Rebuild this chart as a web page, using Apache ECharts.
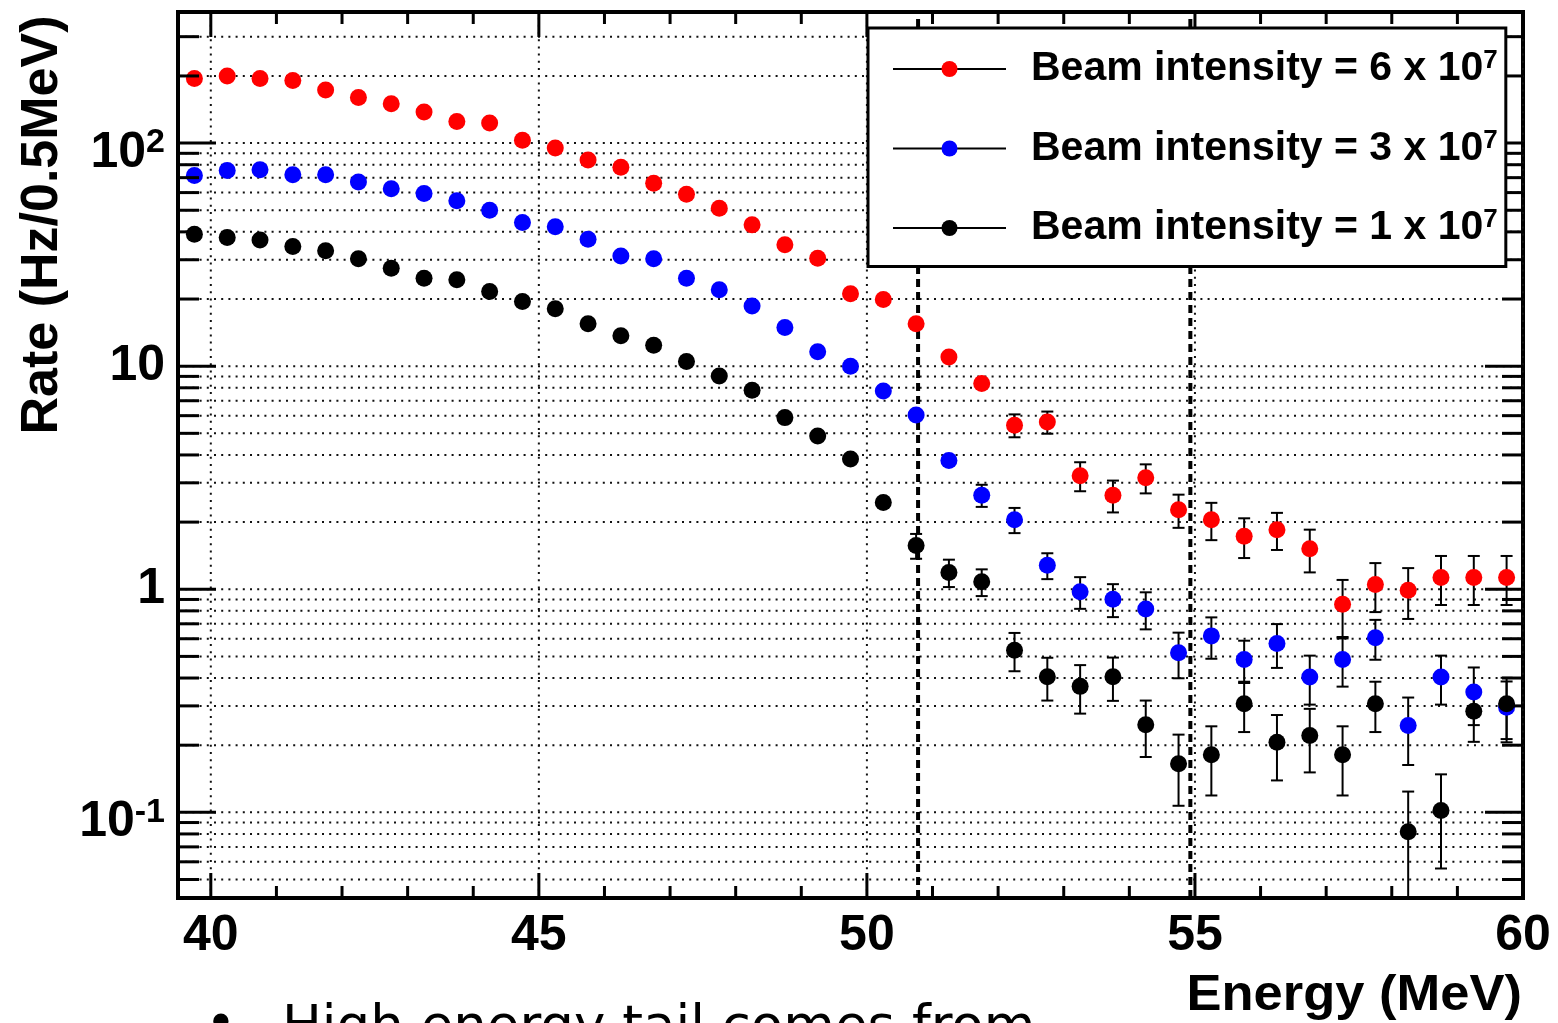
<!DOCTYPE html>
<html>
<head>
<meta charset="utf-8">
<script src="https://cdn.jsdelivr.net/npm/echarts@6/dist/echarts.min.js"></script>
<style>
html,body{margin:0;padding:0;background:#fff;overflow:hidden;}
#c{width:1558px;height:1023px;}
</style>
</head>
<body>
<div id="c"></div>
<script>
// ---------------- data ----------------
const energy = [39.75,40.25,40.75,41.25,41.75,42.25,42.75,43.25,43.75,44.25,
  44.75,45.25,45.75,46.25,46.75,47.25,47.75,48.25,48.75,49.25,
  49.75,50.25,50.75,51.25,51.75,52.25,52.75,53.25,53.75,54.25,
  54.75,55.25,55.75,56.25,56.75,57.25,57.75,58.25,58.75,59.25,59.75];

const seriesNames = ['Beam intensity = 6 x 10^7', 'Beam intensity = 3 x 10^7', 'Beam intensity = 1 x 10^7'];

const rateRed = [195,200,195,191,173,160,150,138,125,123,
  103,95,84,78,66,59,51,43,35,30.5,
  21.1,19.9,15.5,11.0,8.36,5.44,5.62,3.23,2.64,3.16,
  2.27,2.05,1.73,1.85,1.52,0.856,1.05,0.99,1.13,1.13,1.13];
const errRed = [0,0,0,0,0,0,0,0,0,0,0,0,0,0,0,0,0,0,0,0,0,0,0,0,0,
  0.64,0.64,0.48,0.43,0.47,0.385,0.39,0.35,0.35,0.33,0.245,0.26,0.254,0.28,0.28,0.28];

const rateBlue = [71.6,75.4,76.0,72.2,72.2,66.9,62.5,59.4,55.1,50.0,
  44.1,42.2,37.1,31.2,30.3,24.8,22.0,18.6,14.9,11.6,
  10.0,7.74,6.04,3.78,2.64,2.05,1.28,0.975,0.902,0.815,
  0.519,0.618,0.484,0.571,0.404,0.484,0.606,0.245,0.404,0.346,0.296];
const errBlue = [0,0,0,0,0,0,0,0,0,0,0,0,0,0,0,0,0,0,0,0,0,0,0,0,
  0.30,0.265,0.17,0.158,0.152,0.154,0.12,0.13,0.104,0.127,0.10,0.118,0.123,0.082,0.10,0.10,0.09];

const rateBlack = [39.0,37.7,36.8,34.4,32.9,30.3,27.5,24.8,24.4,21.6,
  19.5,18.1,15.5,13.7,12.4,10.5,9.04,7.80,5.88,4.86,
  3.84,2.45,1.57,1.19,1.08,0.533,0.405,0.367,0.405,0.247,
  0.165,0.181,0.307,0.206,0.221,0.181,0.307,0.0819,0.102,0.284,0.307];
const errBlack = [0,0,0,0,0,0,0,0,0,0,0,0,0,0,0,0,0,0,0,0,0,0,
  0.2,0.167,0.148,0.104,0.088,0.09,0.089,0.07,0.058,0.062,0.078,0.067,0.07,0.062,0.078,0.042,0.046,0.077,0.094];

const cutLines = [50.78, 54.93];

const xMajorTicks = [40, 45, 50, 55, 60];
const xMinorTicks = [41,42,43,44,46,47,48,49,51,52,53,54,56,57,58,59];
const yMajorTicks = [0.1, 1, 10, 100];
const yMajorLabels = ['10^-1', '1', '10', '10^2'];
const yMinorTicks = [0.05,0.06,0.07,0.08,0.09,0.2,0.3,0.4,0.5,0.6,0.7,0.8,0.9,
  2,3,4,5,6,7,8,9,20,30,40,50,60,70,80,90,200,300];

// ---------------- settings ----------------
const X_MIN = 39.5, X_MAX = 60, Y_MIN = 0.0413, Y_MAX = 387;
const FONT = '"Liberation Sans", Arial, Helvetica, sans-serif';
const colors = ['#ff0000', '#0000ff', '#000000'];
const rates = [rateRed, rateBlue, rateBlack];
const errs = [errRed, errBlue, errBlack];

const chart = echarts.init(document.getElementById('c'), null, {renderer: 'canvas'});

function isMajorY(v) { return yMajorTicks.some(t => Math.abs(t - v) < 1e-9) ? 1 : 0; }

function renderYGrid(params, api) {
  const v = api.value(1);
  const a = api.coord([X_MIN, v]), b = api.coord([X_MAX, v]);
  return {type: 'line', shape: {x1: a[0], y1: a[1], x2: b[0], y2: b[1]},
    style: {stroke: '#111', lineWidth: 2, lineDash: [2, 5.2]}};
}
function renderXGrid(params, api) {
  const v = api.value(0);
  const a = api.coord([v, Y_MIN]), b = api.coord([v, Y_MAX]);
  return {type: 'line', shape: {x1: a[0], y1: a[1], x2: b[0], y2: b[1]},
    style: {stroke: '#111', lineWidth: 2, lineDash: [2, 5.2]}};
}
function renderYTick(params, api) {
  const v = api.value(1), major = api.value(2);
  const a = api.coord([X_MIN, v]), b = api.coord([X_MAX, v]);
  const len = major ? 38 : 21;
  return {type: 'group', children: [
    {type: 'line', shape: {x1: a[0], y1: a[1], x2: a[0] + len, y2: a[1]}, style: {stroke: '#000', lineWidth: 3}},
    {type: 'line', shape: {x1: b[0] - len, y1: b[1], x2: b[0], y2: b[1]}, style: {stroke: '#000', lineWidth: 3}}
  ]};
}
function renderXTick(params, api) {
  const v = api.value(0), major = api.value(2);
  const a = api.coord([v, Y_MIN]), b = api.coord([v, Y_MAX]);
  const len = major ? 25 : 12;
  return {type: 'group', children: [
    {type: 'line', shape: {x1: a[0], y1: a[1], x2: a[0], y2: a[1] - len}, style: {stroke: '#000', lineWidth: 3}},
    {type: 'line', shape: {x1: b[0], y1: b[1], x2: b[0], y2: b[1] + len}, style: {stroke: '#000', lineWidth: 3}}
  ]};
}
function renderCut(params, api) {
  const v = api.value(0);
  const a = api.coord([v, Y_MIN]), b = api.coord([v, Y_MAX]);
  return {type: 'line', shape: {x1: a[0], y1: a[1], x2: b[0], y2: b[1]},
    style: {stroke: '#000', lineWidth: 4, lineDash: [8, 5]}};
}
function renderErr(params, api) {
  const x = api.value(0), v = api.value(1), e = api.value(2);
  if (!e) return null;
  const hi = Math.min(v + e, Y_MAX);
  const lo = v - e;
  const loC = lo > Y_MIN ? lo : Y_MIN;
  const pT = api.coord([x, hi]), pB = api.coord([x, loC]);
  const ch = 6;
  const children = [
    {type: 'line', shape: {x1: pT[0], y1: pT[1], x2: pB[0], y2: pB[1]}, style: {stroke: '#000', lineWidth: 2}},
    {type: 'line', shape: {x1: pT[0] - ch, y1: pT[1], x2: pT[0] + ch, y2: pT[1]}, style: {stroke: '#000', lineWidth: 2}}
  ];
  if (lo > Y_MIN) children.push({type: 'line', shape: {x1: pB[0] - ch, y1: pB[1], x2: pB[0] + ch, y2: pB[1]}, style: {stroke: '#000', lineWidth: 2}});
  return {type: 'group', children};
}

const series = [];
series.push({type: 'custom', name: 'ygrid', silent: true, z: 1, renderItem: renderYGrid,
  data: yMajorTicks.concat(yMinorTicks).map(v => [X_MIN, v, isMajorY(v)])});
series.push({type: 'custom', name: 'xgrid', silent: true, z: 1, renderItem: renderXGrid,
  data: xMajorTicks.map(v => [v, Y_MIN, 1])});
series.push({type: 'custom', name: 'cuts', silent: true, z: 2, renderItem: renderCut,
  data: cutLines.map(v => [v, Y_MIN])});
for (let k = 0; k < 3; k++) {
  series.push({type: 'custom', name: 'err' + k, silent: true, z: 3, renderItem: renderErr, clip: true,
    data: energy.map((e, i) => [e, rates[k][i], errs[k][i]])});
}
for (let k = 0; k < 3; k++) {
  series.push({type: 'line', name: seriesNames[k], silent: true, z: 4,
    symbol: 'circle', symbolSize: 17, showSymbol: true, clip: true,
    itemStyle: {color: colors[k]}, lineStyle: {opacity: 0, width: 0},
    data: energy.map((e, i) => [e, rates[k][i]])});
}
series.push({type: 'custom', name: 'yticks', silent: true, z: 6, renderItem: renderYTick,
  data: yMajorTicks.concat(yMinorTicks).map(v => [X_MIN, v, isMajorY(v)])});
series.push({type: 'custom', name: 'xticks', silent: true, z: 6, renderItem: renderXTick,
  data: xMajorTicks.map(v => [v, Y_MIN, 1]).concat(xMinorTicks.map(v => [v, Y_MIN, 0]))});

const labStyle = {fontFamily: FONT, fontWeight: 'bold', color: '#000'};

const option = {
  animation: false,
  backgroundColor: '#fff',
  grid: {left: 178, top: 12, width: 1345, height: 886, show: true, borderColor: '#000', borderWidth: 4, backgroundColor: 'transparent'},
  xAxis: {
    type: 'value', min: X_MIN, max: X_MAX, interval: 0.5,
    axisLine: {show: false}, axisTick: {show: false}, splitLine: {show: false},
    axisLabel: {
      margin: 13, fontFamily: FONT, fontWeight: 'bold', fontSize: 50, color: '#000',
      formatter: v => xMajorTicks.some(t => Math.abs(t - v) < 1e-6) ? String(Math.round(v)) : ''
    }
  },
  yAxis: {
    type: 'log', logBase: 10, min: Y_MIN, max: Y_MAX,
    axisLine: {show: false}, axisTick: {show: false}, splitLine: {show: false}, minorTick: {show: false},
    axisLabel: {
      margin: 13,
      formatter: v => {
        const i = yMajorTicks.findIndex(t => Math.abs(Math.log10(t) - Math.log10(v)) < 1e-6);
        if (i < 0) return '';
        const lab = yMajorLabels[i];
        if (lab.indexOf('^') >= 0) {
          const p = lab.split('^');
          return '{b|' + p[0] + '}{s|' + p[1] + '}';
        }
        return '{n|' + lab + '}';
      },
      rich: {
        n: Object.assign({fontSize: 50, lineHeight: 50}, labStyle),
        b: Object.assign({fontSize: 50, lineHeight: 50, padding: [20, 0, 0, 0]}, labStyle),
        s: Object.assign({fontSize: 34, lineHeight: 34, verticalAlign: 'top', padding: [8, 0, 0, 0]}, labStyle)
      }
    }
  },
  legend: {
    data: seriesNames, orient: 'vertical', left: 868, top: 28,
    padding: [20, 8, 18, 24], itemGap: 38, itemWidth: 113, itemHeight: 20,
    backgroundColor: '#fff', borderColor: '#000', borderWidth: 3, borderRadius: 0,
    z: 10, selectedMode: false,
    lineStyle: {color: '#000', width: 2, opacity: 1, type: 'solid'},
    formatter: name => {
      const p = name.split('^');
      return '{t|' + p[0] + '}{s|' + p[1] + '}';
    },
    textStyle: {
      color: '#000',
      rich: {
        t: Object.assign({fontSize: 41, lineHeight: 42, padding: [0, 0, 0, 20]}, labStyle),
        s: Object.assign({fontSize: 26, lineHeight: 14, verticalAlign: 'top'}, labStyle)
      }
    }
  },
  graphic: [
    {type: 'text', x: 43, y: 225, rotation: Math.PI / 2, z: 20,
      style: {text: 'Rate (Hz/0.5MeV)', font: 'bold 52px ' + FONT, fill: '#000', textAlign: 'center', textVerticalAlign: 'middle', align: 'center', verticalAlign: 'middle'}},
    {type: 'text', x: 1522, y: 996, scaleX: 1.05, z: 20,
      style: {text: 'Energy (MeV)', font: 'bold 50px ' + FONT, fill: '#000', textAlign: 'right', textVerticalAlign: 'middle', align: 'right', verticalAlign: 'middle'}},
    {type: 'text', x: 221, y: 1027, z: 20,
      style: {text: '\u2022', font: '53px "DejaVu Sans"', fill: '#000', textAlign: 'center', textVerticalAlign: 'middle', align: 'center', verticalAlign: 'middle'}},
    {type: 'text', x: 282, y: 1029, z: 20,
      style: {text: 'High energy tail comes from', font: '53px "DejaVu Sans"', fill: '#000', textAlign: 'left', textVerticalAlign: 'middle', align: 'left', verticalAlign: 'middle'}}
  ],
  series: series
};
chart.setOption(option);
</script>
</body>
</html>
